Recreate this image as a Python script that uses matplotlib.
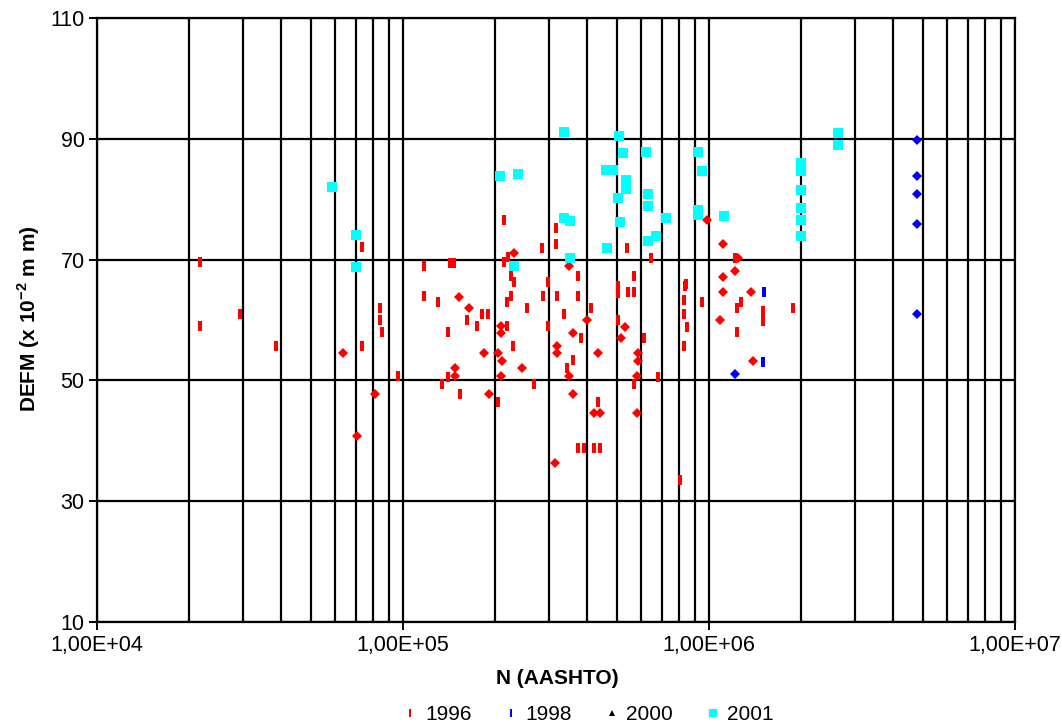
import matplotlib

matplotlib.use("Agg")
import matplotlib.pyplot as plt
from matplotlib.ticker import FixedLocator, FuncFormatter, NullFormatter

plt.rcParams["font.family"] = ["Liberation Sans", "DejaVu Sans"]
plt.rcParams["mathtext.fontset"] = "custom"
plt.rcParams["mathtext.rm"] = "Liberation Sans"
plt.rcParams["mathtext.bf"] = "Liberation Sans:bold"

# 1996 readings (dash marker)
n_1996 = [2.17e4, 2.17e4, 2.93e4, 3.85e4, 7.35e4, 7.35e4, 8.41e4, 8.41e4, 8.54e4, 9.63e4,
          1.17e5, 1.17e5, 1.30e5, 1.34e5, 1.40e5, 1.40e5, 1.42e5, 1.47e5, 1.54e5, 1.62e5,
          1.75e5, 1.81e5, 1.90e5, 2.04e5, 2.14e5, 2.14e5, 2.20e5, 2.25e5, 2.31e5, 2.25e5,
          2.19e5, 2.19e5, 2.29e5, 2.54e5, 2.68e5, 2.85e5, 2.87e5, 2.98e5, 2.98e5, 3.16e5,
          3.16e5, 3.19e5, 3.36e5, 3.44e5, 3.59e5, 3.73e5, 3.73e5, 3.73e5, 3.82e5, 3.90e5,
          4.11e5, 4.21e5, 4.34e5, 4.40e5, 5.04e5, 5.04e5, 5.04e5, 5.40e5, 5.44e5, 5.69e5,
          5.69e5, 5.69e5, 6.13e5, 6.46e5, 6.81e5, 8.04e5, 8.33e5, 8.40e5, 8.29e5, 8.29e5,
          8.48e5, 8.29e5, 9.49e5, 1.22e6, 1.23e6, 1.27e6, 1.23e6, 1.50e6, 1.50e6, 1.88e6]
defm_1996 = [69.6, 59.0, 61.0, 55.7, 72.1, 55.7, 62.0, 60.0, 58.0, 50.7,
             68.9, 64.0, 63.0, 49.4, 58.0, 50.6, 69.4, 69.4, 47.7, 60.0,
             59.0, 61.0, 61.0, 46.4, 76.6, 69.6, 70.4, 67.3, 66.3, 64.0,
             63.0, 59.0, 55.7, 62.0, 49.4, 71.9, 64.0, 66.3, 59.0, 75.2,
             72.6, 64.0, 61.0, 52.1, 53.4, 67.3, 64.0, 38.8, 57.0, 38.8,
             62.0, 38.8, 46.4, 38.8, 65.6, 64.4, 60.0, 71.9, 64.6, 67.3,
             64.6, 49.4, 57.0, 70.3, 50.6, 33.5, 65.6, 65.9, 63.3, 61.0,
             58.8, 55.7, 63.0, 70.3, 62.0, 63.0, 58.0, 61.5, 59.8, 62.0]

# 1996 readings (diamond marker)
n_1996_d = [6.37e4, 8.10e4, 7.07e4, 2.31e5, 3.49e5, 9.85e5, 1.11e6, 1.24e6, 1.22e6, 1.11e6,
            1.11e6, 1.37e6, 1.09e6, 1.39e6, 1.52e5, 1.64e5, 3.99e5, 5.32e5, 2.09e5, 2.09e5,
            3.59e5, 5.16e5, 3.19e5, 3.19e5, 1.84e5, 2.04e5, 4.34e5, 5.86e5, 2.11e5, 5.86e5,
            1.48e5, 2.45e5, 1.48e5, 2.09e5, 3.49e5, 5.82e5, 1.91e5, 3.59e5, 4.21e5, 4.40e5,
            5.82e5, 3.14e5]
defm_1996_d = [54.5, 47.7, 40.8, 71.1, 68.9, 76.6, 72.6, 70.3, 68.1, 67.1,
               64.6, 64.6, 60.0, 53.2, 63.8, 62.0, 60.0, 58.8, 59.0, 57.8,
               57.8, 57.0, 55.7, 54.5, 54.5, 54.5, 54.5, 54.5, 53.2, 53.2,
               52.1, 52.1, 50.7, 50.7, 50.7, 50.7, 47.7, 47.7, 44.6, 44.6,
               44.6, 36.3]

# 1998 readings
n_1998 = [1.51e6, 1.50e6]
defm_1998 = [64.6, 53.0]
n_1998_d = [1.22e6, 4.78e6, 4.78e6, 4.78e6, 4.78e6, 4.78e6]
defm_1998_d = [51.1, 89.8, 83.8, 80.9, 75.9, 61.0]

# 2000 readings
n_2000 = []
defm_2000 = []

# 2001 readings
n_2001 = [5.86e4, 7.02e4, 7.02e4, 2.08e5, 2.38e5, 2.31e5, 3.36e5, 3.36e5, 3.51e5, 3.51e5,
          4.61e5, 4.86e5, 4.64e5, 5.08e5, 5.24e5, 5.36e5, 5.36e5, 5.04e5, 5.12e5, 6.22e5,
          6.32e5, 6.32e5, 6.32e5, 6.71e5, 7.24e5, 9.21e5, 9.49e5, 9.21e5, 9.21e5, 1.12e6,
          2.0e6, 2.0e6, 2.0e6, 2.0e6, 2.0e6, 2.0e6, 2.64e6, 2.64e6]
defm_2001 = [82.0, 74.1, 68.8, 83.8, 84.2, 68.9, 91.1, 76.9, 76.4, 70.3,
             84.8, 84.8, 71.9, 90.5, 87.6, 83.2, 81.7, 80.2, 76.2, 87.8,
             80.9, 78.9, 73.1, 73.9, 76.9, 87.8, 84.7, 78.2, 77.4, 77.2,
             86.0, 84.7, 81.5, 78.5, 76.6, 73.9, 91.0, 89.0]

x_ticks = [1e4, 1e5, 1e6, 1e7]
y_ticks = [10, 30, 50, 70, 90, 110]

# narrow vertical bar used as the dash marker
dash = [(-0.16, -0.5), (0.16, -0.5), (0.16, 0.5), (-0.16, 0.5), (-0.16, -0.5)]

fig = plt.figure(figsize=(10.62, 7.26), dpi=100)
ax = fig.add_axes([97 / 1062, 1 - 622 / 726, 918 / 1062, 604 / 726])

ax.set_xscale("log")
ax.set_xlim(1e4, 1e7)
ax.set_ylim(10, 110)

ax.plot(n_1996, defm_1996, linestyle="none", marker=dash, markersize=7.0,
        markeredgewidth=0, color="#ff0000", label="1996", zorder=3)
ax.plot(n_1996_d, defm_1996_d, linestyle="none", marker="D", markersize=5.6,
        markeredgewidth=0, color="#ff0000", zorder=3)
ax.plot(n_1998, defm_1998, linestyle="none", marker=dash, markersize=7.0,
        markeredgewidth=0, color="#0000ff", label="1998", zorder=3)
ax.plot(n_1998_d, defm_1998_d, linestyle="none", marker="D", markersize=5.6,
        markeredgewidth=0, color="#0000ff", zorder=3)
ax.plot(n_2000, defm_2000, linestyle="none", marker="^", markersize=6,
        markeredgewidth=0, color="black", label="2000", zorder=3)
ax.plot(n_2001, defm_2001, linestyle="none", marker="s", markersize=7.8,
        markeredgewidth=0, color="#00ffff", label="2001", zorder=3)

ax.xaxis.set_major_locator(FixedLocator(x_ticks))
ax.xaxis.set_major_formatter(FuncFormatter(lambda v, _: f"{v:.2E}".replace(".", ",")))
ax.xaxis.set_minor_formatter(NullFormatter())
ax.yaxis.set_major_locator(FixedLocator(y_ticks))

ax.grid(True, which="both", axis="x", color="black", linewidth=1.6)
ax.grid(True, which="major", axis="y", color="black", linewidth=1.6)
ax.set_axisbelow(True)
for spine in ax.spines.values():
    spine.set_linewidth(1.6)

ax.tick_params(axis="both", which="major", direction="out", length=6, width=1.4,
               labelsize=15.5, pad=3)
ax.tick_params(axis="x", which="minor", length=0)

ax.set_xlabel("N (AASHTO)", fontsize=15, fontweight="bold")
ax.set_ylabel(r"DEFM (x 10$^{\mathbf{-2}}$ m m)", fontsize=15, fontweight="bold")
ax.xaxis.set_label_coords(0.501, -0.078)
ax.yaxis.set_label_coords(-0.060, 0.503)

fig.legend(loc="center", bbox_to_anchor=(589 / 1062, 1 - 715 / 726), ncol=4,
           frameon=False, fontsize=15, markerscale=0.8, handlelength=0.6,
           handletextpad=0.4, columnspacing=1.6)

fig.savefig("out.png", dpi=100)
